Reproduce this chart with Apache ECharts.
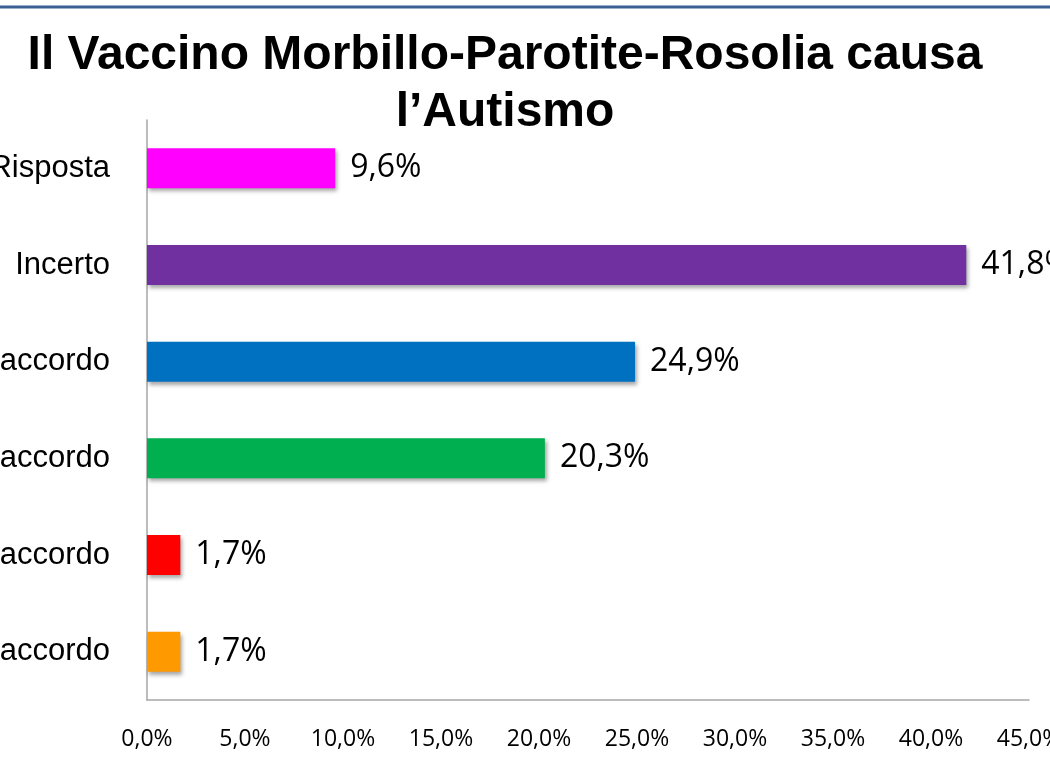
<!DOCTYPE html>
<html>
<head>
<meta charset="utf-8">
<script src="https://cdn.jsdelivr.net/npm/echarts@6/dist/echarts.min.js"></script>
<style>html,body{margin:0;padding:0;background:#fff}#c{width:1050px;height:765px}</style>
</head>
<body>
<div id="c"></div>
<script>
const titleText = "Il Vaccino Morbillo-Parotite-Rosolia causa\nl\u2019Autismo";
const categories = ["Nessuna Risposta", "Incerto", "Fortemente in disaccordo", "In disaccordo", "D\u2019accordo", "Fortemente d\u2019accordo"];
const values = [9.6, 41.8, 24.9, 20.3, 1.7, 1.7];
const barColors = ["#FF00FF", "#7030A0", "#0070C0", "#00B050", "#FF0000", "#FF9900"];
const xTicks = [0, 5, 10, 15, 20, 25, 30, 35, 40, 45];

const fmt = v => v.toFixed(1).replace('.', ',') + '%';

const chart = echarts.init(document.getElementById('c'));
chart.setOption({
  backgroundColor: '#ffffff',
  animation: false,
  title: {
    text: titleText,
    left: 500,
    top: 22,
    textAlign: 'center',
    textStyle: {
      fontFamily: 'Liberation Sans, Arial, sans-serif',
      fontWeight: 'bold',
      fontSize: 48,
      lineHeight: 57,
      color: '#000'
    }
  },
  graphic: [{
    type: 'line',
    shape: { x1: 0, y1: 7, x2: 1050, y2: 7 },
    style: { stroke: '#3B5E95', lineWidth: 3 }
  }],
  grid: { left: 147, right: 21, top: 120, bottom: 65, outerBoundsMode: 'none', containLabel: false },
  xAxis: {
    type: 'value',
    min: xTicks[0],
    max: xTicks[xTicks.length - 1],
    interval: 5,
    axisLine: { show: true, lineStyle: { color: '#A6A6A6', width: 1.5 } },
    axisTick: { show: false },
    splitLine: { show: false },
    axisLabel: {
      formatter: v => fmt(v),
      fontFamily: 'Open Sans, sans-serif',
      fontSize: 23,
      color: '#000',
      margin: 28,
      showMaxLabel: true
    }
  },
  yAxis: {
    type: 'category',
    inverse: true,
    data: categories,
    axisLine: { show: true, lineStyle: { color: '#A6A6A6', width: 1.5 } },
    axisTick: { show: false },
    axisLabel: {
      fontFamily: 'Liberation Sans, Arial, sans-serif',
      fontSize: 31,
      color: '#000',
      margin: 37
    }
  },
  series: [{
    type: 'bar',
    barWidth: 40,
    data: values.map((v, i) => ({
      value: v,
      itemStyle: { color: barColors[i] }
    })),
    itemStyle: {
      shadowColor: 'rgba(0,0,0,0.35)',
      shadowBlur: 4,
      shadowOffsetX: 2,
      shadowOffsetY: 3
    },
    label: {
      show: true,
      position: 'right',
      distance: 15,
      formatter: p => fmt(p.value),
      fontFamily: 'Open Sans, sans-serif',
      fontSize: 32,
      color: '#000'
    }
  }]
});
</script>
</body>
</html>
